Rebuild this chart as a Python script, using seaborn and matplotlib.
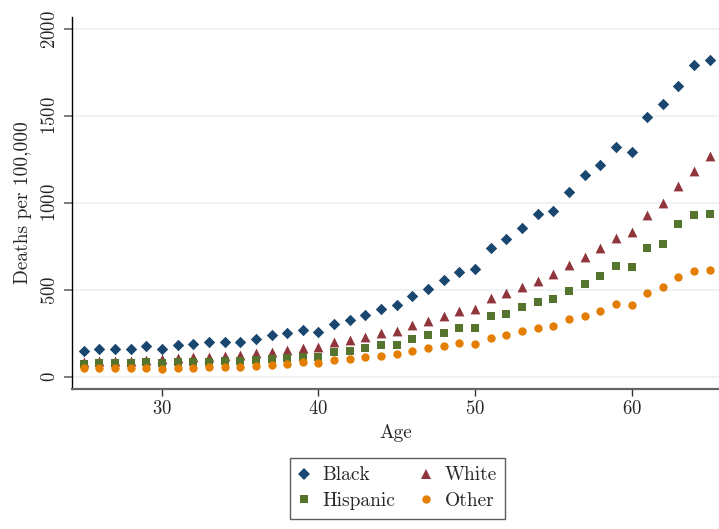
import numpy as np
import pandas as pd
import matplotlib
matplotlib.use("Agg")
import matplotlib.pyplot as plt
from matplotlib.lines import Line2D
import seaborn as sns

ages = list(range(25, 66))

black = [151, 159, 159, 163, 176, 163, 186, 188, 200, 203, 200, 219, 240, 251, 270,
         256, 305, 328, 358, 393, 412, 468, 506, 556, 604, 619, 742, 794, 855, 935,
         954, 1062, 1163, 1218, 1320, 1293, 1495, 1571, 1674, 1796, 1823]
white = [88, 92, 92, 94, 98, 101, 109, 113, 117, 121, 125, 136, 146, 153, 168,
         171, 199, 213, 232, 253, 266, 301, 324, 351, 380, 393, 455, 485, 519, 554,
         590, 646, 690, 742, 801, 834, 933, 1000, 1100, 1185, 1269]
hispanic = [77, 82, 80, 82, 84, 80, 86, 86, 88, 92, 94, 98, 103, 107, 116,
            114, 142, 148, 167, 182, 182, 217, 240, 251, 284, 282, 349, 364, 404, 431,
            449, 496, 535, 582, 640, 634, 742, 767, 880, 930, 939]
other = [52, 50, 52, 52, 52, 46, 54, 54, 56, 58, 59, 63, 69, 75, 84,
         83, 98, 104, 115, 123, 130, 148, 165, 177, 196, 190, 222, 241, 263, 284,
         293, 332, 349, 380, 420, 414, 485, 517, 575, 610, 615]

groups = ["Black", "White", "Hispanic", "Other"]
colors = {"Black": "#1a476f", "White": "#90353b", "Hispanic": "#55752f", "Other": "#e37e00"}
markers = {"Black": "D", "White": "^", "Hispanic": "s", "Other": "o"}
sizes = {"Black": 34, "White": 50, "Hispanic": 32, "Other": 36}

df = pd.DataFrame({
    "Age": ages * 4,
    "Deaths": black + white + hispanic + other,
    "Group": sum([[g] * len(ages) for g in groups], []),
})

sns.set_style("white")
plt.rcParams["font.family"] = ["cmr10", "DejaVu Serif"]
plt.rcParams["axes.formatter.use_mathtext"] = True
plt.rcParams["axes.unicode_minus"] = False

fig = plt.figure(figsize=(7.19, 5.29), dpi=100)
ax = fig.add_axes([0.1001, 0.2647, 0.8999, 0.7032])

for g in groups:
    sub = df[df["Group"] == g]
    sns.scatterplot(data=sub, x="Age", y="Deaths", ax=ax, marker=markers[g],
                    color=colors[g], s=sizes[g], linewidth=0, label=g, legend=False)

ax.set_xlim(24.25, 65.59)
ax.set_ylim(-69, 2070)
ax.set_xticks([30, 40, 50, 60])
ax.set_yticks([0, 500, 1000, 1500, 2000])

ax.yaxis.grid(True, color="#eaf0f3", linewidth=1.2)
ax.xaxis.grid(False)
ax.set_axisbelow(True)

for s in ["top", "right"]:
    ax.spines[s].set_visible(False)
ax.spines["left"].set_color("black")
ax.spines["left"].set_linewidth(1.0)
ax.spines["bottom"].set_color("#666666")
ax.spines["bottom"].set_linewidth(1.6)

ax.tick_params(axis="y", direction="out", length=6, width=1.2, color="#666666",
               labelsize=13.5, pad=3, left=True)
ax.tick_params(axis="x", direction="out", length=5, width=1.0, color="#333333",
               labelsize=13.5, pad=3, bottom=True)
for lab in ax.get_yticklabels():
    lab.set_rotation(90)
    lab.set_va("center")

ax.set_xlabel("Age", fontsize=14, labelpad=4)
ax.set_ylabel("Deaths per 100,000", fontsize=14, labelpad=7)

# legend: two columns, Black/White on top row, Hispanic/Other below
order = ["Black", "Hispanic", "White", "Other"]
msz = {"Black": 6.0, "White": 7.0, "Hispanic": 5.5, "Other": 6.0}
hs = [Line2D([], [], linestyle="none", marker=markers[g], color=colors[g],
             markersize=msz[g], markeredgewidth=0) for g in order]
leg = fig.legend(hs, order, ncol=2, loc="center", bbox_to_anchor=(0.553, 0.077),
                 fontsize=14, frameon=True, fancybox=False, edgecolor="#333333",
                 handletextpad=0.63, columnspacing=1.3, labelspacing=0.4,
                 borderpad=0.45, handlelength=0.6)
leg.get_frame().set_linewidth(1.0)

fig.savefig("out.png", dpi=100)
